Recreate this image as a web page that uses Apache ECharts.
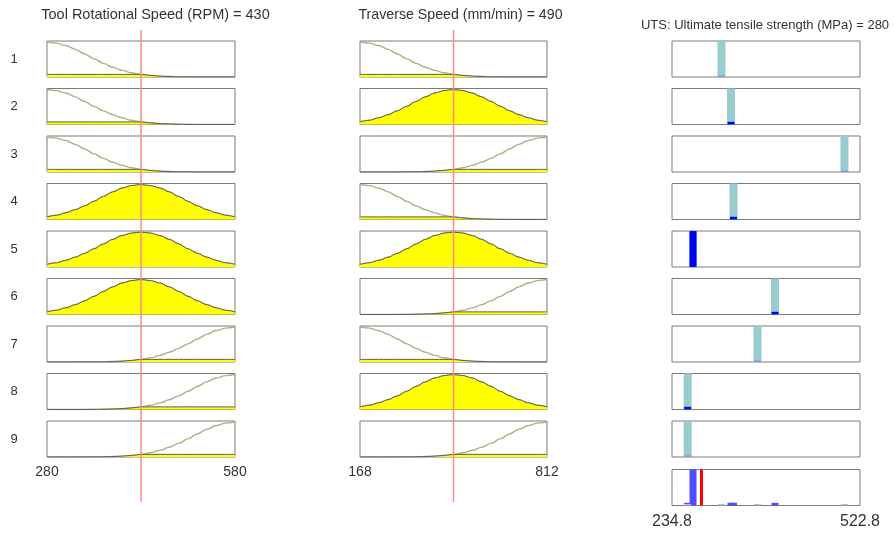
<!DOCTYPE html>
<html><head><meta charset="utf-8">
<script src="https://cdn.jsdelivr.net/npm/echarts@6/dist/echarts.min.js"></script>
<style>html,body{margin:0;padding:0;background:#fff}#c{width:894px;height:533px}</style>
</head><body><div id="c"></div>
<script>
// ---------------- data ----------------
const ruleLabels = ['1', '2', '3', '4', '5', '6', '7', '8', '9'];

const rpmTitle = 'Tool Rotational Speed (RPM)';
const rpmRange = [280, 580];
const rpmValue = 430;

const tsTitle = 'Traverse Speed (mm/min)';
const tsRange = [168, 812];
const tsValue = 490;

const utsTitle = 'UTS: Ultimate tensile strength (MPa)';
const utsRange = [234.8, 522.8];
const utsValue = 280;

// membership functions read at fractions of the input range
const mfSampleFrac = [0, 0.05, 0.1, 0.15, 0.2, 0.25, 0.3, 0.35, 0.4, 0.45, 0.5, 0.55, 0.6, 0.65, 0.7, 0.75, 0.8, 0.85, 0.9, 0.95, 1];
const mfLow  = [1.00, 0.97, 0.90, 0.79, 0.66, 0.52, 0.39, 0.28, 0.19, 0.12, 0.075, 0.044, 0.024, 0.013, 0.006, 0.003, 0.001, 0, 0, 0, 0];
const mfMid  = [0.075, 0.12, 0.19, 0.28, 0.39, 0.52, 0.66, 0.79, 0.90, 0.97, 1.00, 0.97, 0.90, 0.79, 0.66, 0.52, 0.39, 0.28, 0.19, 0.12, 0.075];
const mfHigh = [0, 0, 0, 0, 0.001, 0.003, 0.006, 0.013, 0.024, 0.044, 0.075, 0.12, 0.19, 0.28, 0.39, 0.52, 0.66, 0.79, 0.90, 0.97, 1.00];

const ruleRpmMf = ['low', 'low', 'low', 'mid', 'mid', 'mid', 'high', 'high', 'high'];
const ruleTsMf  = ['low', 'mid', 'high', 'low', 'mid', 'high', 'low', 'mid', 'high'];
const ruleUts   = [310.6, 325.2, 499.0, 329.0, 267.0, 392.6, 365.8, 258.8, 258.8];

// ---------------- build ----------------
const MF = { low: mfLow, mid: mfMid, high: mfHigh };
function degreeAt(mf, frac) {
  for (let i = 0; i < mfSampleFrac.length - 1; i++) {
    const a = mfSampleFrac[i], b = mfSampleFrac[i + 1];
    if (frac >= a && frac <= b) return mf[i] + (mf[i + 1] - mf[i]) * (frac - a) / (b - a);
  }
  return mf[mf.length - 1];
}
const ruleWeights = ruleLabels.map((_, r) =>
  degreeAt(MF[ruleRpmMf[r]], (rpmValue - rpmRange[0]) / (rpmRange[1] - rpmRange[0])) *
  degreeAt(MF[ruleTsMf[r]], (tsValue - tsRange[0]) / (tsRange[1] - tsRange[0])));

const FONT = 'Liberation Sans';
const TXT = '#333333';
const COLS = [{ left: 47, width: 188 }, { left: 360, width: 187 }, { left: 672, width: 188 }];
const ROW_TOP0 = 41, ROW_STEP = 47.5, ROW_H = 36;

const grids = [], xAxes = [], yAxes = [], series = [], graphics = [];

function addGrid(left, top, width, height, show, xr, yr, xLabel) {
  const idx = grids.length;
  grids.push({ left, top, width, height, show, borderColor: '#7a7a7a', borderWidth: 1, backgroundColor: 'transparent' });
  xAxes.push({ gridIndex: idx, type: 'value', min: xr[0], max: xr[1],
    axisLine: { show: false }, axisTick: { show: false }, splitLine: { show: false },
    axisLabel: xLabel || { show: false } });
  yAxes.push({ gridIndex: idx, type: 'value', min: yr[0], max: yr[1],
    axisLine: { show: false }, axisTick: { show: false }, splitLine: { show: false }, axisLabel: { show: false } });
  return idx;
}

const inputs = [
  { range: rpmRange, value: rpmValue, rules: ruleRpmMf, title: rpmTitle, tx: 155.5, tsize: 14.5 },
  { range: tsRange, value: tsValue, rules: ruleTsMf, title: tsTitle, tx: 460.5, tsize: 14.2 }
];

inputs.forEach((inp, c) => {
  const col = COLS[c];
  const span = inp.range[1] - inp.range[0];
  const frac = (inp.value - inp.range[0]) / span;
  ruleLabels.forEach((lab, r) => {
    const top = ROW_TOP0 + r * ROW_STEP;
    const isLast = r === ruleLabels.length - 1;
    const lbl = isLast ? {
      show: true, customValues: [inp.range[0], inp.range[1]], margin: 8,
      fontFamily: FONT, fontSize: 14, color: TXT, formatter: v => String(v)
    } : null;
    const idx = addGrid(col.left, top, col.width, ROW_H, true, inp.range, [0, 1.03], lbl);
    const mf = MF[inp.rules[r]];
    const deg = degreeAt(mf, frac);
    series.push({
      type: 'line', xAxisIndex: idx, yAxisIndex: idx, silent: true, symbol: 'none',
      smooth: 0.35, smoothMonotone: 'x', z: 2,
      lineStyle: { color: '#b0b086', width: 1.4 },
      data: mfSampleFrac.map((f, i) => [inp.range[0] + f * span, mf[i]])
    });
    series.push({
      type: 'line', xAxisIndex: idx, yAxisIndex: idx, silent: true, symbol: 'none',
      smooth: 0.35, smoothMonotone: 'x', z: 3,
      lineStyle: { color: '#5a5a5a', width: 1 },
      areaStyle: { color: '#ffff00', opacity: 1 },
      data: mfSampleFrac.map((f, i) => [inp.range[0] + f * span, Math.min(mf[i], deg)])
    });
  });
  // title
  graphics.push({ type: 'text', x: inp.tx, y: 15,
    style: { text: inp.title + ' = ' + inp.value, fontFamily: FONT, fontSize: inp.tsize, fill: TXT,
      textAlign: 'center', textVerticalAlign: 'middle' } });
  // red input line across the whole column
  const ov = addGrid(col.left, 30, col.width, 472, false, inp.range, [0, 1], null);
  series.push({
    type: 'line', xAxisIndex: ov, yAxisIndex: ov, silent: true, symbol: 'none', z: 10,
    lineStyle: { color: '#ff8a8a', width: 1.5 },
    data: [[inp.value, 0], [inp.value, 1]]
  });
});

// row labels
ruleLabels.forEach((lab, r) => {
  graphics.push({ type: 'text', x: 14, y: ROW_TOP0 + r * ROW_STEP + ROW_H / 2,
    style: { text: lab, fontFamily: FONT, fontSize: 13, fill: TXT, textAlign: 'center', textVerticalAlign: 'middle' } });
});

function barRenderer(width, colorFn) {
  return function (params, api) {
    const x = api.value(0), h = api.value(1);
    const p0 = api.coord([x, 0]), p1 = api.coord([x, h]);
    let hh = p0[1] - p1[1];
    const fill = colorFn(hh);
    if (hh < 1.5) hh = 1.5;
    return { type: 'rect', shape: { x: p0[0] - width / 2, y: p0[1] - hh, width: width, height: hh }, style: { fill } };
  };
}

// output rows
const outCol = COLS[2];
ruleLabels.forEach((lab, r) => {
  const top = ROW_TOP0 + r * ROW_STEP;
  const idx = addGrid(outCol.left, top, outCol.width, ROW_H, true, utsRange, [0, 1], null);
  series.push({ type: 'custom', xAxisIndex: idx, yAxisIndex: idx, silent: true, z: 2,
    renderItem: barRenderer(8, () => '#99cccc'), data: [[ruleUts[r], 1]] });
  series.push({ type: 'custom', xAxisIndex: idx, yAxisIndex: idx, silent: true, z: 3,
    renderItem: barRenderer(7, hh => hh < 1 ? '#8f8ff6' : '#0000ff'), data: [[ruleUts[r], ruleWeights[r]]] });
});
// aggregate row
{
  const top = ROW_TOP0 + ruleLabels.length * ROW_STEP + 1;
  const idx = addGrid(outCol.left, top, outCol.width, ROW_H, true, utsRange, [0, 1], {
    show: true, customValues: [utsRange[0], utsRange[1]], margin: 8,
    fontFamily: FONT, fontSize: 16, color: TXT, formatter: v => v.toFixed(1)
  });
  series.push({ type: 'custom', xAxisIndex: idx, yAxisIndex: idx, silent: true, z: 3,
    renderItem: barRenderer(7, hh => hh < 1 ? '#b8b8f4' : '#4d4dff'),
    data: ruleUts.map((u, r) => [u, ruleWeights[r]]) });
  series.push({ type: 'line', xAxisIndex: idx, yAxisIndex: idx, silent: true, symbol: 'none', z: 5,
    lineStyle: { color: '#ff0000', width: 3 }, data: [[utsValue, 0], [utsValue, 1]] });
  graphics.push({ type: 'text', x: outCol.left + outCol.width / 2 - 1, y: 25,
    style: { text: utsTitle + ' = ' + utsValue, fontFamily: FONT, fontSize: 13, fill: TXT,
      textAlign: 'center', textVerticalAlign: 'middle' } });
}

const chart = echarts.init(document.getElementById('c'));
chart.setOption({
  animation: false,
  backgroundColor: '#ffffff',
  grid: grids, xAxis: xAxes, yAxis: yAxes, series: series, graphic: graphics
});
</script>
</body></html>
